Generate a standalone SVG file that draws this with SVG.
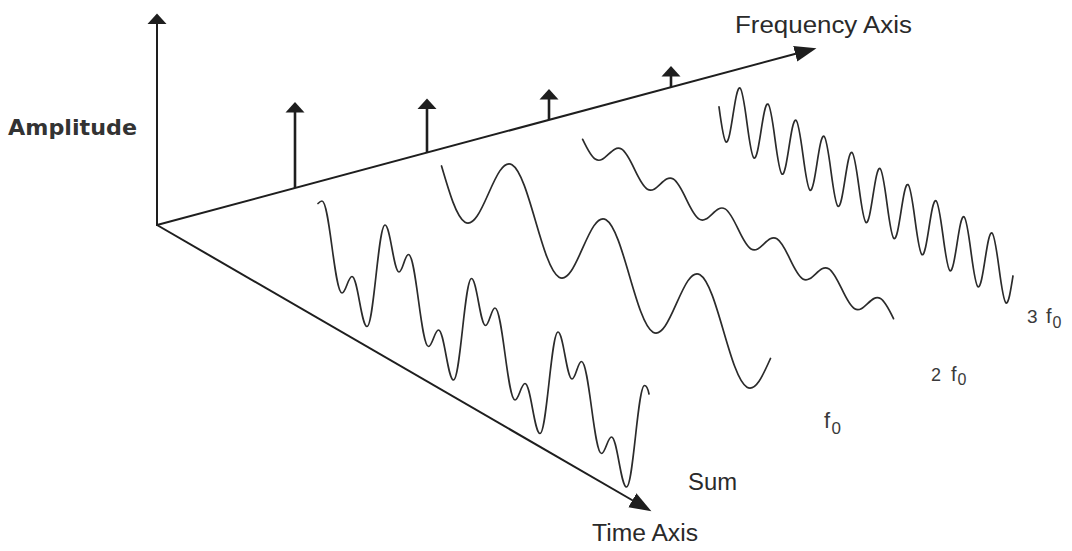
<svg xmlns="http://www.w3.org/2000/svg" width="1072" height="551" viewBox="0 0 1072 551">
<style>
.axis{stroke:#1e1e1e;stroke-width:2;fill:none}
.stem{stroke:#1e1e1e;stroke-width:2.6;fill:none}
.wave{stroke:#2b2b2b;stroke-width:1.7;fill:none;stroke-linejoin:round;stroke-linecap:round}
.lbl{font-family:'Liberation Sans',Arial,sans-serif;fill:#2a2a2a}
.sm{font-family:'Liberation Sans',Arial,sans-serif;fill:#3a3a3a}
.head{fill:#1e1e1e}
</style>
<defs>
<marker id="tipSmall" markerUnits="userSpaceOnUse" viewBox="0 -10 12 20" markerWidth="12" markerHeight="20" refX="0.5" refY="0" orient="auto"><path class="head" d="M0,-9.5 L10.5,0 L0,9.5 Z"/></marker>
<marker id="tipBig" markerUnits="userSpaceOnUse" viewBox="0 -9 23 18" markerWidth="23" markerHeight="18" refX="0.5" refY="0" orient="auto"><path class="head" d="M0,-8 L22,0 L0,8 Z"/></marker>
</defs>
<rect x="0" y="0" width="1072" height="551" fill="#ffffff"/>

<g id="connectors">
<line id="amplitude-axis" class="axis" x1="157" y1="226" x2="157" y2="23.5" marker-end="url(#tipSmall)"/>
<line id="frequency-axis" class="axis" x1="157" y1="225" x2="795.7" y2="53.7" marker-end="url(#tipBig)"/>
<line id="time-axis" class="axis" x1="157" y1="225" x2="632.8" y2="500.5" marker-end="url(#tipBig)"/>
</g>

<g id="spectrum">
<line id="spike-f0" class="stem" x1="295" y1="188" x2="295" y2="112" marker-end="url(#tipSmall)"/>
<line id="spike-2f0" class="stem" x1="427" y1="152.6" x2="427" y2="108.5" marker-end="url(#tipSmall)"/>
<line id="spike-3f0" class="stem" x1="549" y1="120" x2="549" y2="99" marker-end="url(#tipSmall)"/>
<line id="spike-4f0" class="stem" x1="671" y1="87" x2="671" y2="76" marker-end="url(#tipSmall)"/>
</g>

<g id="wave-sum">
<path class="wave" d="M318,203.5 C319.5,202 320.5,201 322,201 C329.6,201 334.4,293 342,293 C345.8,293 348.2,276.5 352,276.5 C357.7,276.5 361.3,326.5 367,326.5 C373.8,326.5 378.2,225 385,225 c5.3,0 8.7,47 14,47 c3.6,0 5.9,-17.5 9.5,-17.5 c7.6,0 12.4,92 20,92 c3.8,0 6.2,-16.5 10,-16.5 c5.7,0 9.3,50 15,50 c6.8,0 11.2,-101.5 18,-101.5 c5.3,0 8.7,47 14,47 c3.6,0 5.9,-17.5 9.5,-17.5 c7.6,0 12.4,92 20,92 c3.8,0 6.2,-16.5 10,-16.5 c5.7,0 9.3,50 15,50 c6.8,0 11.2,-101.5 18,-101.5 c5.3,0 8.7,47 14,47 c3.6,0 5.9,-17.5 9.5,-17.5 c7.6,0 12.4,92 20,92 c3.8,0 6.2,-16.5 10,-16.5 c5.7,0 9.3,50 15,50 c6.8,0 11.2,-101.5 18,-101.5 c2,0 3.5,3.5 4.5,8.5"/>
</g>

<g id="wave-f0">
<path class="wave" vector-effect="non-scaling-stroke" transform="matrix(1,0.585,0,1,0,-92.3)" d="M441.5,0 C449.2,21.8 456.5,42.5 465,42.5 C482.1,42.5 494.9,-42.5 512,-42.5 C529.1,-42.5 541.9,42.5 559,42.5 C576.1,42.5 588.9,-42.5 606,-42.5 C623.1,-42.5 635.9,42.5 653,42.5 C670.1,42.5 682.9,-42.5 700,-42.5 C717.1,-42.5 729.9,42.5 747,42.5 C755.5,42.5 762.8,21.8 770.5,0"/>
</g>

<g id="wave-2f0">
<path class="wave" vector-effect="non-scaling-stroke" transform="matrix(1,0.577,0,1,0,-196.9)" d="M582.65,0 C586.9,6.45 590.9,12.6 595.6,12.6 C605.0,12.6 612.1,-12.6 621.5,-12.6 C630.9,-12.6 638.0,12.6 647.4,12.6 C656.8,12.6 663.9,-12.6 673.3,-12.6 C682.7,-12.6 689.8,12.6 699.2,12.6 C708.6,12.6 715.7,-12.6 725.1,-12.6 C734.5,-12.6 741.6,12.6 751.0,12.6 C760.4,12.6 767.5,-12.6 776.9,-12.6 C786.3,-12.6 793.4,12.6 802.8,12.6 C812.2,12.6 819.3,-12.6 828.7,-12.6 C838.1,-12.6 845.2,12.6 854.6,12.6 C864.0,12.6 871.1,-12.6 880.5,-12.6 C885.2,-12.6 889.2,-6.5 893.5,0"/>
</g>

<g id="wave-3f0">
<path class="wave" vector-effect="non-scaling-stroke" transform="matrix(1,0.575,0,1,0,-306.5)" d="M719,0 C721.3,15.9 723.5,31 726,31 c5.1,0 8.9,-62 14,-62 c5.1,0 8.9,62 14,62 c5.1,0 8.9,-62 14,-62 c5.1,0 8.9,62 14,62 c5.1,0 8.9,-62 14,-62 c5.1,0 8.9,62 14,62 c5.1,0 8.9,-62 14,-62 c5.1,0 8.9,62 14,62 c5.1,0 8.9,-62 14,-62 c5.1,0 8.9,62 14,62 c5.1,0 8.9,-62 14,-62 c5.1,0 8.9,62 14,62 c5.1,0 8.9,-62 14,-62 c5.1,0 8.9,62 14,62 c5.1,0 8.9,-62 14,-62 c5.1,0 8.9,62 14,62 c5.1,0 8.9,-62 14,-62 c5.1,0 8.9,62 14,62 c5.1,0 8.9,-62 14,-62 c5.1,0 8.9,62 14,62 C1008.5,31 1010.7,15.9 1013,0"/>
</g>

<g id="labels">
<text id="label-amplitude" x="8" y="135" font-family="'DejaVu Sans',sans-serif" font-weight="bold" font-size="21" fill="#333" textLength="129" lengthAdjust="spacingAndGlyphs">Amplitude</text>
<text id="label-frequency" class="lbl" x="735" y="33" font-size="23" textLength="177" lengthAdjust="spacingAndGlyphs">Frequency Axis</text>
<text id="label-time" class="lbl" x="592" y="541" font-size="23" textLength="106" lengthAdjust="spacingAndGlyphs">Time Axis</text>
<text id="label-sum" class="lbl" x="688" y="490" font-size="23" textLength="49" lengthAdjust="spacingAndGlyphs">Sum</text>
<text id="label-f0" class="sm" x="824" y="428" font-size="22">f<tspan x="831.5" y="434" font-size="17">0</tspan></text>
<text id="label-2f0" class="sm" x="931" y="381" font-size="18">2<tspan x="951" font-size="20">f</tspan><tspan x="957.5" y="385" font-size="16">0</tspan></text>
<text id="label-3f0" class="sm" x="1027" y="323" font-size="19">3<tspan x="1046" font-size="20">f</tspan><tspan x="1052.5" y="328" font-size="16">0</tspan></text>
</g>
</svg>
